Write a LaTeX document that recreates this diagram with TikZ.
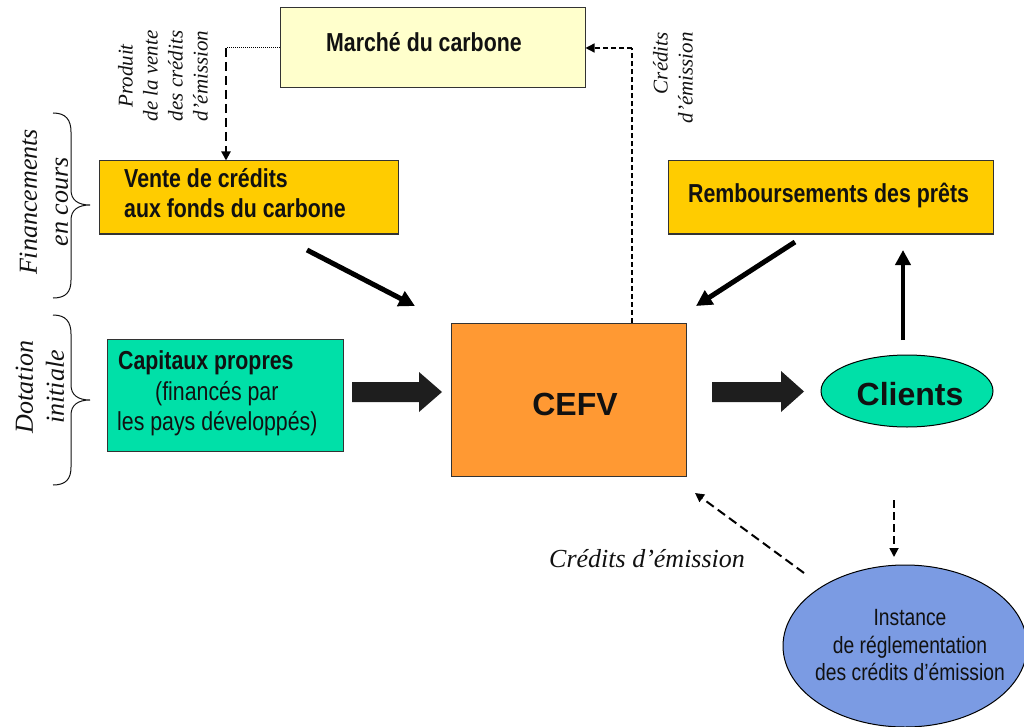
\documentclass[tikz,border=0pt]{standalone}
\usepackage{fontspec}
\setmainfont{Liberation Serif}
\newfontfamily\nar[FakeStretch=0.82]{Liberation Sans}
\newfontfamily\arl{Liberation Sans}
\usetikzlibrary{arrows.meta,shapes.geometric}
\definecolor{boxyellow}{HTML}{FFCC00}
\definecolor{paleyellow}{HTML}{FFFFCC}
\definecolor{tealbox}{HTML}{00E0A8}
\definecolor{orangebox}{HTML}{FF9933}
\definecolor{bluebox}{HTML}{7B9BE3}
\definecolor{darkfill}{HTML}{1E1E1E}
\definecolor{ink}{HTML}{111111}
\begin{document}
\begin{tikzpicture}[x=1pt,y=-1pt,
  box/.style={draw=black!80, line width=1pt, inner sep=0pt, rectangle},
  oval/.style={draw=black, line width=1pt, inner sep=0pt, ellipse},
  boldtxt/.style={inner sep=0pt, text=ink, font=\nar\bfseries\fontsize{26}{30}\selectfont},
  normtxt/.style={inner sep=0pt, text=ink, font=\nar\fontsize{26}{30}\selectfont},
  smalltxt/.style={inner sep=0pt, text=ink, font=\nar\fontsize{23.5}{27}\selectfont},
  bigtxt/.style={inner sep=0pt, text=ink, font=\arl\bfseries\fontsize{32}{36}\selectfont},
  itxt/.style={inner sep=0pt, text=ink, font=\itshape\fontsize{21}{25}\selectfont},
  bigitxt/.style={inner sep=0pt, text=ink, font=\itshape\fontsize{26}{31}\selectfont},
  thickarrow/.style={draw=black, line width=5pt, -{Triangle[length=16pt,width=16pt]}},
  dasharrow/.style={draw=black, line width=2pt, dash pattern=on 9pt off 5pt, -{Triangle[length=9pt,width=9pt]}},
  finedash/.style={draw=black, line width=1.3pt, dash pattern=on 5pt off 3pt},
  blockarrow/.style={fill=darkfill, draw=none},
  bracepath/.style={draw=ink, line width=1pt}
]
\useasboundingbox (0,0) rectangle (1024,727);

% boxes
\node[box, fill=paleyellow, minimum width=305pt, minimum height=80pt] (marche) at (432.5,48) {};
\node[boldtxt, anchor=base west] (marcheT) at (326,52) {Marché du carbone};

\node[box, fill=boxyellow, minimum width=299pt, minimum height=73pt] (vente) at (248.5,197.5) {};
\node[boldtxt, anchor=base west] (venteA) at (124,188) {Vente de crédits};
\node[boldtxt, anchor=base west] (venteB) at (124,218) {aux fonds du carbone};

\node[box, fill=boxyellow, minimum width=325pt, minimum height=73pt] (remb) at (830.5,197.5) {};
\node[boldtxt, anchor=base west] (rembT) at (688,203) {Remboursements des prêts};

\node[box, fill=tealbox, minimum width=236pt, minimum height=112pt] (cap) at (225,395) {};
\node[boldtxt, anchor=base west] (capA) at (118,369) {Capitaux propres};
\node[normtxt, anchor=base west] (capB) at (155,400) {(financés par};
\node[normtxt, anchor=base west] (capC) at (117,430) {les pays développés)};

\node[box, fill=orangebox, minimum width=235pt, minimum height=153pt] (cefv) at (568.5,399.5) {};
\node[bigtxt, anchor=base] (cefvT) at (575,415) {CEFV};

\node[oval, fill=tealbox, minimum width=172pt, minimum height=72pt] (clients) at (907,391) {};
\node[bigtxt, anchor=base] (clientsT) at (910,405) {Clients};

\node[oval, fill=bluebox, minimum width=244pt, minimum height=162pt] (inst) at (905,646) {};
\node[smalltxt, anchor=base] (instA) at (910,625) {Instance};
\node[smalltxt, anchor=base] (instB) at (910,653) {de réglementation};
\node[smalltxt, anchor=base] (instC) at (910,680) {des crédits d’émission};

% labels
\node[itxt, rotate=90, align=center] (produit) at (163,76) {Produit\\de la vente\\des crédits\\d’émission};
\node[itxt, rotate=90, align=right, anchor=east] (credTop) at (673,32) {Crédits\\d’émission};
\node[bigitxt, rotate=90, align=center] (fin) at (44,202) {Financements\\en cours};
\node[bigitxt, rotate=90, align=center] (dot) at (40,387) {Dotation\\initiale};
\node[bigitxt, anchor=base west] (credBot) at (549,567) {Crédits d’émission};

% braces
\draw[bracepath] (53,113) .. controls (66,113) and (71,120) .. (71,132) -- (71,190)
  .. controls (71,200) and (78,205) .. (90,205) .. controls (78,205) and (71,210) .. (71,220)
  -- (71,280) .. controls (71,292) and (66,298) .. (53,298);
\draw[bracepath] (53,315) .. controls (66,315) and (71,322) .. (71,334) -- (71,385)
  .. controls (71,395) and (78,400) .. (90,400) .. controls (78,400) and (71,405) .. (71,415)
  -- (71,467) .. controls (71,479) and (66,485) .. (53,485);

% block arrows
\path[blockarrow] (352,382) -- (419,382) -- (419,372) -- (442,392) -- (419,412) -- (419,402) -- (352,402) -- cycle;
\path[blockarrow] (712,382) -- (781,382) -- (781,371) -- (804,391.5) -- (781,412) -- (781,402) -- (712,402) -- cycle;

% thick arrows
\coordinate (v1) at (307,250);
\coordinate (v2) at (415,306);
\draw[thickarrow] (v1) -- (v2);
\coordinate (r1) at (795,242);
\coordinate (r2) at (696,306);
\draw[thickarrow] (r1) -- (r2);
\coordinate (c1) at (903,340);
\coordinate (c2) at (903,250);
\draw[draw=black, line width=4.5pt, -{Triangle[length=15pt,width=15pt]}] (c1) -- (c2);

% dashed connectors
\coordinate (m1) at (226,48);
\draw[draw=black, line width=1pt, densely dotted] (marche.west) -- (m1);
\draw[dasharrow] (m1) -- (vente.north -| m1);
\coordinate (k1) at (632,48);
\draw[finedash] (cefv.north -| k1) -- (k1);
\draw[finedash, -{Triangle[length=9pt,width=9pt]}] (k1) -- (marche.east);
\coordinate (i1) at (804,573);
\coordinate (i2) at (695,493);
\draw[dasharrow] (i1) -- (i2);
\coordinate (d1) at (894,500);
\coordinate (d2) at (894,557);
\draw[dasharrow, line width=1.8pt, dash pattern=on 8pt off 4pt] (d1) -- (d2);
\end{tikzpicture}
\end{document}
